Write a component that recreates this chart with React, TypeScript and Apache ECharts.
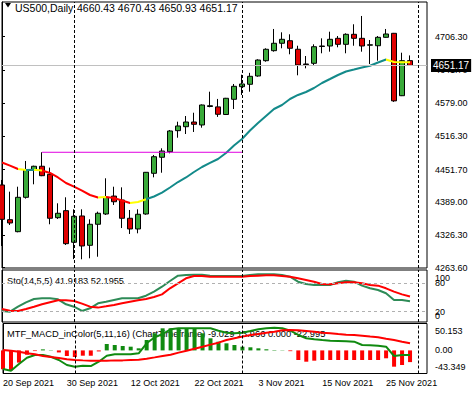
import { useEffect, useRef } from 'react';
import * as echarts from 'echarts';

const FONT = '"Liberation Sans", Arial, sans-serif';

const symbolName = 'US500,Daily';
const headerOHLC = ['4660.43', '4670.43', '4650.93', '4651.17'];
const stoTitle = 'Sto(14,5,5) 41.9183 52.1955';
const macdTitle = 'MTF_MACD_inColor(5,11,16) (ChartTimeframe) -9.029 13.966 0.000 -22.995';

const opens = [4422.1, 4355.6, 4332.6, 4398.5, 4450.8, 4458.0, 4442.6, 4359.4, 4372.9, 4312.3, 4362.7, 4306.5, 4346.8, 4366.5, 4400.9, 4393.3, 4358.3, 4337.8, 4366.5, 4444.5, 4475.2, 4485.9, 4526.2, 4533.8, 4542.8, 4537.1, 4572.5, 4571.8, 4557.2, 4586.3, 4610.5, 4615.1, 4631.0, 4660.3, 4679.5, 4693.7, 4698.6, 4682.2, 4654.0, 4655.3, 4687.5, 4688.5, 4703.2, 4691.7, 4710.9, 4703.2, 4690.0, 4689.0, 4705.1, 4712.8, 4593.2, 4660.43];
const highs = [4431.7, 4409.3, 4418.8, 4468.1, 4459.1, 4484.8, 4455.4, 4387.0, 4398.5, 4375.5, 4375.5, 4356.3, 4371.0, 4434.9, 4418.8, 4417.6, 4374.2, 4375.5, 4447.0, 4479.6, 4492.4, 4527.5, 4543.4, 4554.3, 4560.6, 4576.5, 4600.9, 4587.0, 4589.0, 4615.7, 4633.5, 4637.0, 4663.0, 4684.1, 4721.1, 4714.7, 4710.9, 4689.0, 4669.3, 4691.7, 4703.2, 4715.9, 4707.6, 4712.8, 4730.1, 4746.0, 4700.0, 4707.6, 4721.1, 4713.5, 4675.6, 4670.43];
const lows = [4305.2, 4345.4, 4331.4, 4396.0, 4423.4, 4439.0, 4346.8, 4357.0, 4307.1, 4280.0, 4279.7, 4281.6, 4284.6, 4364.6, 4383.8, 4339.6, 4328.2, 4329.5, 4365.0, 4436.8, 4445.6, 4482.8, 4512.7, 4519.8, 4523.7, 4531.9, 4571.0, 4552.6, 4556.2, 4567.7, 4594.6, 4600.9, 4629.6, 4658.4, 4677.6, 4684.1, 4672.6, 4632.3, 4645.7, 4652.1, 4674.5, 4677.6, 4686.0, 4674.5, 4689.0, 4677.6, 4654.0, 4660.3, 4704.5, 4581.4, 4592.5, 4650.93];
const closes = [4356.3, 4349.3, 4398.5, 4450.8, 4458.0, 4439.9, 4358.3, 4367.9, 4309.6, 4362.1, 4305.2, 4346.8, 4367.9, 4398.5, 4390.0, 4358.3, 4337.8, 4366.0, 4446.4, 4476.3, 4487.2, 4525.6, 4535.2, 4542.8, 4538.4, 4575.4, 4574.0, 4557.6, 4588.3, 4611.2, 4615.7, 4630.4, 4661.6, 4682.2, 4693.7, 4701.3, 4684.1, 4652.1, 4652.8, 4687.1, 4688.5, 4701.3, 4691.7, 4710.9, 4703.2, 4688.5, 4690.8, 4705.1, 4711.5, 4583.3, 4660.3, 4651.17];

const maValues = [4465.2, 4459.1, 4452.7, 4450.8, 4451.5, 4449.9, 4445.1, 4436.5, 4425.9, 4418.8, 4411.2, 4402.9, 4398.1, 4399.1, 4397.2, 4392.4, 4387.6, 4389.5, 4394.7, 4400.0, 4407.3, 4417.3, 4427.8, 4436.5, 4447.0, 4456.6, 4464.3, 4471.9, 4483.4, 4497.8, 4510.2, 4526.5, 4540.9, 4554.3, 4567.7, 4575.4, 4586.9, 4594.6, 4600.3, 4608.0, 4617.6, 4625.2, 4632.9, 4639.6, 4643.4, 4647.3, 4650.7, 4656.9, 4662.6, 4657.8, 4657.2, 4657.2];
// [fromBar, toBar, colour] runs of the slope-coloured moving average
const maColorRuns: [number, number, string][] = [
  [0, 2, '#ff0000'], [2, 3, '#ffff00'], [3, 4, '#138a8a'], [4, 5, '#ffff00'],
  [5, 12, '#ff0000'], [12, 13, '#ffff00'], [13, 16, '#ff0000'], [16, 18, '#ffff00'],
  [18, 48, '#138a8a'], [48, 51, '#ffff00'],
];

const stoMain = [21.5, 20, 30.6, 39.8, 46.8, 48.3, 48.3, 46.2, 35.6, 30.6, 21.5, 27.2, 37.7, 41.1, 44.7, 48.3, 48.3, 48.3, 53.8, 62.3, 72.8, 84.9, 96.1, 97.5, 98.2, 98.2, 96.1, 95.4, 95.4, 95.4, 95.4, 97.5, 98.9, 98.9, 98.9, 97.5, 94, 83.4, 78.5, 76.4, 76.4, 76.4, 82.1, 85.5, 83.4, 75, 69.4, 65.8, 58.9, 44.7, 44.7, 41.9];
const stoSignal = [25.7, 22.1, 21.5, 25.7, 30.6, 35.6, 39.8, 44, 44, 42.6, 37, 30.6, 28.6, 31.3, 34.2, 37.7, 41.1, 44, 46.8, 51, 56.6, 69.4, 80, 90.5, 95.4, 95.4, 94, 94, 94, 94, 94, 95.4, 96.1, 96.8, 96.8, 95.4, 94, 90.5, 87, 83.4, 78.5, 77.9, 80, 82.1, 82.1, 80, 76.4, 75, 69.4, 62.3, 56.6, 52.2];

const macdMain = [-36.5, -39.9, -26.7, -14.3, -9, -9, -12.4, -18.9, -28.7, -32, -30, -30.7, -22.2, -10.4, -7.7, -7.7, -7.7, -5.7, 14, 25.7, 32.2, 41.5, 43.4, 43.4, 43.4, 43.4, 43.4, 38.7, 34.8, 33.6, 34.8, 38.1, 41.5, 43.4, 44.6, 43.4, 38.7, 30.3, 23.8, 21.8, 20.4, 19.1, 18.5, 17.9, 17.1, 10.6, 10, 9.2, 7.3, -11, -9, -9.029];
const macdSignal = [0.8, -0.5, -2.5, -5.8, -7.7, -11, -13, -14.9, -17.6, -18.9, -19.6, -20.2, -20.2, -20.2, -19.6, -19.6, -18.9, -18.2, -16.3, -13.7, -11, -8.4, -4.4, -0.5, 3.4, 7.3, 11.3, 15.2, 20.4, 23.8, 27.1, 30.3, 32.2, 34.8, 36.8, 39.4, 40.1, 39.4, 38.1, 36.8, 34.8, 33.6, 32.2, 30.9, 30.3, 28.9, 27.1, 25.7, 23, 20.4, 17.1, 13.966];
const macdHist = [-37, -39, -24, -8.5, -1.3, 2, 0.6, -4, -11, -13, -10.4, -10.5, -2, 12.6, 10.6, 8.6, 7.3, 4.1, 20.4, 33.6, 43.4, 43.4, 43.4, 43.4, 43.4, 33.6, 23.8, 17.1, 13.9, 10.6, 7.3, 6.1, 4.1, 2.2, 0.8, 0.5, -1.5, -18.9, -22.2, -20.2, -18.9, -18.9, -18.9, -18.9, -18.9, -18.9, -18.9, -18.9, -15.5, -32, -28.7, -22.995];

const dateTickIndex = [0, 8, 16, 24, 32, 40, 48];
const dateTickLabels = ['20 Sep 2021', '30 Sep 2021', '12 Oct 2021', '22 Oct 2021', '3 Nov 2021', '15 Nov 2021', '25 Nov 2021'];
const priceTicks = [4263.6, 4326.3, 4389.0, 4451.7, 4516.3, 4579.0, 4641.7, 4706.3];
const stoLevels = [20, 80];
const stoBounds = [0, 100];
const macdTicks = [-43.349, 0, 50.153];
const macdTickLabels = ['-43.349', '0.00', '50.153'];
const separators = [9, 30, 52];
const resistanceBars = [5, 30];
const resistancePrice = 4484.8;
const bidPrice = 4651.17;

const BULL = '#3aaa3a';
const BEAR = '#e00000';
const X_MAX = 53.125;
const STO_MIN = -1.8;
const STO_MAX = 108.1;

function xAxis(gridIndex: number, labels: boolean) {
  return {
    type: 'value', gridIndex, min: 0, max: X_MAX,
    axisLine: { show: false }, axisTick: { show: false }, splitLine: { show: false },
    axisLabel: labels
      ? {
          show: true, customValues: dateTickIndex, align: 'left', margin: 5,
          fontSize: 9, fontFamily: FONT, color: '#000',
          showMinLabel: true, showMaxLabel: true,
          formatter: (v: number) => {
            const i = dateTickIndex.indexOf(Math.round(v));
            return i >= 0 ? dateTickLabels[i] : '';
          },
        }
      : { show: false },
  };
}

const sepLines = () =>
  separators.map((s) => ({ xAxis: s, lineStyle: { color: '#000', type: [3, 2], width: 1 } }));

function buildOption() {
  const candles = opens.map((o, i) => [i, o, closes[i], lows[i], highs[i]]);
  const axisLabelBase = {
    fontSize: 9, fontFamily: FONT, color: '#000', margin: 8,
    showMinLabel: true, showMaxLabel: true, hideOverlap: false,
  };
  return {
    animation: false,
    backgroundColor: '#ffffff',
    grid: [
      { left: 2, top: 2, width: 425, height: 266, show: true, borderColor: '#000', borderWidth: 1, backgroundColor: 'transparent' },
      { left: 2, top: 270, width: 425, height: 52, show: true, borderColor: '#000', borderWidth: 1, backgroundColor: 'transparent' },
      { left: 2, top: 323.5, width: 425, height: 50, show: true, borderColor: '#000', borderWidth: 1, backgroundColor: 'transparent' },
    ],
    xAxis: [xAxis(0, false), xAxis(1, false), xAxis(2, true)],
    yAxis: [
      {
        type: 'value', gridIndex: 0, position: 'right', min: 4263.0, max: 4772.8,
        axisLine: { show: true, lineStyle: { color: '#000' } },
        axisTick: { show: true, length: 3, customValues: priceTicks, lineStyle: { color: '#000' } },
        axisLabel: { ...axisLabelBase, customValues: priceTicks, formatter: (v: number) => v.toFixed(2) },
        splitLine: { show: false },
      },
      {
        type: 'value', gridIndex: 1, position: 'right', min: STO_MIN, max: STO_MAX,
        axisLine: { show: true, lineStyle: { color: '#000' } },
        axisTick: { show: true, length: 3, customValues: stoLevels, lineStyle: { color: '#000' } },
        axisLabel: { ...axisLabelBase, customValues: stoLevels, formatter: (v: number) => String(v) },
        splitLine: { show: false },
      },
      {
        type: 'value', gridIndex: 2, position: 'right', min: -45.39, max: 52.86,
        axisLine: { show: true, lineStyle: { color: '#000' } },
        axisTick: { show: true, length: 3, customValues: [0], lineStyle: { color: '#000' } },
        axisLabel: {
          ...axisLabelBase, customValues: macdTicks,
          formatter: (v: number) => {
            const i = macdTicks.findIndex((t) => Math.abs(t - v) < 1e-6);
            const s = i >= 0 ? macdTickLabels[i] : '';
            if (i === 2) return '{t|' + s + '}';
            if (i === 0) return '{b|' + s + '}';
            return s;
          },
          rich: {
            t: { fontSize: 9, fontFamily: FONT, color: '#000', padding: [13, 0, 0, 0] },
            b: { fontSize: 9, fontFamily: FONT, color: '#000', padding: [0, 0, 10, 0] },
          },
        },
        splitLine: { show: false },
      },
      {
        // second scale on the stochastic window carrying its 0 / 100 bounds
        type: 'value', gridIndex: 1, position: 'right', min: STO_MIN, max: STO_MAX,
        axisLine: { show: false }, axisTick: { show: false }, splitLine: { show: false },
        axisLabel: {
          ...axisLabelBase, customValues: stoBounds,
          formatter: (v: number) => (v === 100 ? '{t|100}' : '{b|0}'),
          rich: {
            t: { fontSize: 9, fontFamily: FONT, color: '#000', padding: [8, 0, 0, 0] },
            b: { fontSize: 9, fontFamily: FONT, color: '#000', padding: [0, 0, 11, 0] },
          },
        },
      },
    ],
    visualMap: [
      {
        type: 'piecewise', show: false, seriesIndex: 1, dimension: 0,
        pieces: maColorRuns.map(([a, b, c], i) =>
          i === maColorRuns.length - 1 ? { gte: a, lte: b, color: c } : { gte: a, lt: b, color: c }
        ),
        outOfRange: { color: '#999' },
      },
    ],
    graphic: [
      { type: 'polygon', shape: { points: [[5, 3], [11, 3], [8, 7.5]] }, style: { fill: '#000' } },
      { type: 'text', x: 15, y: 7.5, style: { text: symbolName, fill: '#000', font: '10.5px ' + FONT, verticalAlign: 'middle' } },
      { type: 'text', x: 77, y: 7.5, style: { text: headerOHLC.join(' '), fill: '#000', font: '10.5px ' + FONT, verticalAlign: 'middle' } },
      { type: 'text', x: 7, y: 281, style: { text: stoTitle, fill: '#000', font: '9.2px ' + FONT, verticalAlign: 'middle' } },
      { type: 'text', x: 7, y: 334, style: { text: macdTitle, fill: '#000', font: '9.3px ' + FONT, verticalAlign: 'middle' } },
    ],
    series: [
      {
        type: 'candlestick', xAxisIndex: 0, yAxisIndex: 0, data: candles,
        encode: { x: 0, y: [1, 2, 3, 4] }, barWidth: 5, clip: true,
        itemStyle: { color: BULL, color0: BEAR, borderColor: '#000', borderColor0: '#000', borderWidth: 1 },
        markLine: {
          silent: true, symbol: ['none', 'none'], animation: false,
          label: { show: false },
          data: [
            {
              yAxis: bidPrice,
              lineStyle: { color: '#c0c0c0', type: 'solid', width: 1 },
              label: {
                show: true, position: 'end', distance: 4, formatter: bidPrice.toFixed(2),
                color: '#fff', backgroundColor: '#000', padding: [2, 2, 1, 2], fontSize: 10, fontFamily: FONT,
              },
            },
            ...sepLines(),
          ],
        },
      },
      {
        type: 'line', xAxisIndex: 0, yAxisIndex: 0,
        data: maValues.map((v, i) => [i, v]), showSymbol: false, symbol: 'none',
        lineStyle: { width: 2 }, clip: true, z: 3,
      },
      {
        type: 'line', xAxisIndex: 0, yAxisIndex: 0,
        data: resistanceBars.map((b) => [b, resistancePrice]), showSymbol: false, symbol: 'none',
        lineStyle: { width: 1, color: '#e000e0' }, z: 3,
      },
      {
        type: 'line', xAxisIndex: 1, yAxisIndex: 1,
        data: stoMain.map((v, i) => [i, v]), showSymbol: false, symbol: 'none',
        lineStyle: { width: 2, color: '#2e8b57' }, itemStyle: { color: '#2e8b57' },
        markLine: {
          silent: true, symbol: ['none', 'none'], label: { show: false },
          data: [
            ...stoLevels.map((l) => ({ yAxis: l, lineStyle: { color: '#b0b0b0', type: [3, 3], width: 1 } })),
            ...sepLines(),
          ],
        },
      },
      {
        type: 'line', xAxisIndex: 1, yAxisIndex: 1,
        data: stoSignal.map((v, i) => [i, v]), showSymbol: false, symbol: 'none',
        lineStyle: { width: 2, color: '#ff0000' }, itemStyle: { color: '#ff0000' },
      },
      {
        type: 'bar', xAxisIndex: 2, yAxisIndex: 2, barWidth: 4,
        data: macdHist.map((v, i) => [i, v]),
        itemStyle: { color: (p: any) => (p.value[1] >= 0 ? '#108a10' : '#ff0000') },
        markLine: { silent: true, symbol: ['none', 'none'], label: { show: false }, data: sepLines() },
      },
      {
        type: 'line', xAxisIndex: 2, yAxisIndex: 2,
        data: macdMain.map((v, i) => [i, v]), showSymbol: false, symbol: 'none',
        lineStyle: { width: 2, color: '#108a10' }, itemStyle: { color: '#108a10' },
      },
      {
        type: 'line', xAxisIndex: 2, yAxisIndex: 2,
        data: macdSignal.map((v, i) => [i, v]), showSymbol: false, symbol: 'none',
        lineStyle: { width: 2, color: '#ff0000' }, itemStyle: { color: '#ff0000' },
      },
    ],
  };
}

export default function App() {
  const ref = useRef<HTMLDivElement>(null);
  useEffect(() => {
    if (!ref.current) return;
    const chart = echarts.init(ref.current, null, { renderer: 'svg' });
    chart.setOption(buildOption() as any);
    return () => chart.dispose();
  }, []);
  return (
    <div
      ref={ref}
      style={{ position: 'absolute', left: 0, top: 0, width: 472, height: 395, background: '#fff' }}
    />
  );
}
